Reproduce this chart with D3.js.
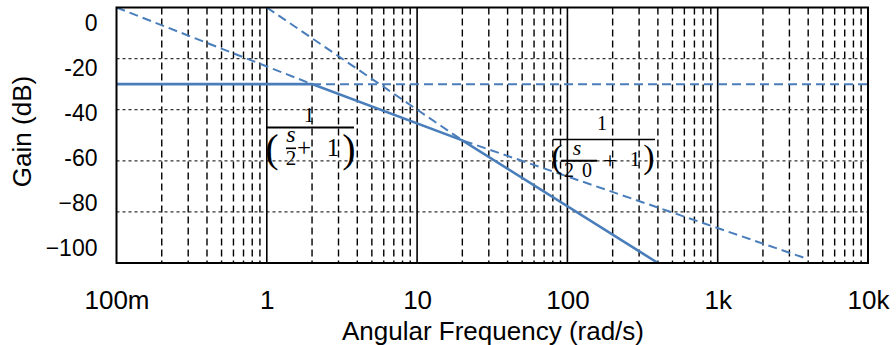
<!DOCTYPE html>
<html>
<head>
<meta charset="utf-8">
<script src="https://cdn.jsdelivr.net/npm/d3@7"></script>
<style>
  html, body { margin: 0; padding: 0; background: #fff; }
  svg { display: block; }
  text { font-family: "Liberation Sans", Arial, sans-serif; fill: #000; }
  .math text { font-family: "Liberation Serif", "DejaVu Serif", serif; }
</style>
</head>
<body>
<svg id="Bode" width="896" height="345"></svg>
<script>
// data
const xTickValues = [0.1, 1, 10, 100, 1000, 10000];
const xTickLabels = ["100m", "1", "10", "100", "1k", "10k"];
const yTickValues = [0, -20, -40, -60, -80, -100];
const yTickLabels = ["0", "-20", "-40", "-60", "\u221280", "\u2212100"];
const yGridValues = [-20, -40, -60, -80];

// asymptotic gain, solid
const gainFreq = [0.1, 2, 20, 400];
const gainDb = [-30, -30, -52, -100];
// dashed construction lines
const pole1Freq = [0.1, 2, 10000];
const pole1Db = [0, -30, -30];
const pole2Freq = [1, 20, 4000];
const pole2Db = [0, -52, -98.5];

const svg = d3.select("svg#Bode");
const plotLeft = 116.5, plotRight = 868, plotTop = 7.5, plotBottom = 263;

const xScale = d3.scaleLog().domain([0.1, 10000]).range([plotLeft, plotRight]);
const yScale = d3.scaleLinear().domain([0, -100]).range([plotTop, plotBottom]);
// the tick labels in the reference are spaced on their own, not on the grid
const yLabelScale = d3.scaleLinear().domain([0, -100]).range([23.3, 248.3]);

// minor decade lines
const minor = [];
for (let d = 0.1; d < 10000; d *= 10) {
    for (let k = 2; k <= 9; k++) minor.push(d * k);
}

const grid = svg.append("g").attr("class", "grid");
grid.selectAll(".minor")
    .data(minor)
    .enter()
    .append("line")
    .attr("x1", d => xScale(d)).attr("x2", d => xScale(d))
    .attr("y1", plotTop).attr("y2", plotBottom)
    .attr("stroke", "#000").attr("stroke-width", 1.4)
    .attr("stroke-dasharray", "7,4");

grid.selectAll(".hgrid")
    .data(yGridValues)
    .enter()
    .append("line")
    .attr("x1", plotLeft).attr("x2", plotRight)
    .attr("y1", d => yScale(d)).attr("y2", d => yScale(d))
    .attr("stroke", "#333").attr("stroke-width", 1.2)
    .attr("stroke-dasharray", "3,3");

grid.selectAll(".major")
    .data(xTickValues.slice(1, -1))
    .enter()
    .append("line")
    .attr("x1", d => xScale(d)).attr("x2", d => xScale(d))
    .attr("y1", plotTop).attr("y2", plotBottom)
    .attr("stroke", "#000").attr("stroke-width", 1.6);

// lines
const line = d3.line()
    .x(d => xScale(d[0]))
    .y(d => yScale(d[1]));

const blue = "#4a7ebb";
svg.append("path")
    .datum(d3.zip(pole1Freq, pole1Db))
    .attr("d", line)
    .attr("fill", "none").attr("stroke", blue).attr("stroke-width", 2)
    .attr("stroke-dasharray", "9,5");
svg.append("path")
    .datum(d3.zip(pole2Freq, pole2Db))
    .attr("d", line)
    .attr("fill", "none").attr("stroke", blue).attr("stroke-width", 2)
    .attr("stroke-dasharray", "9,5");
svg.append("path")
    .datum(d3.zip(gainFreq, gainDb))
    .attr("d", line)
    .attr("fill", "none").attr("stroke", blue).attr("stroke-width", 2.6);

// plot border
svg.append("rect")
    .attr("x", plotLeft).attr("y", plotTop)
    .attr("width", plotRight - plotLeft).attr("height", plotBottom - plotTop)
    .attr("fill", "none").attr("stroke", "#000").attr("stroke-width", 2);

// axes
const xAxis = svg.append("g")
    .attr("transform", `translate(0,${plotBottom})`)
    .call(d3.axisBottom(xScale)
        .tickValues(xTickValues)
        .tickFormat((d, i) => xTickLabels[i])
        .tickSize(0)
        .tickPadding(28));
xAxis.select(".domain").remove();
xAxis.selectAll("text").style("font-size", "26px").style("font-family", "Liberation Sans, Arial, sans-serif");

const yAxis = svg.append("g")
    .attr("transform", `translate(${plotLeft},0)`)
    .call(d3.axisLeft(yLabelScale)
        .tickValues(yTickValues)
        .tickFormat((d, i) => yTickLabels[i])
        .tickSize(0)
        .tickPadding(19));
yAxis.select(".domain").remove();
yAxis.selectAll("text").style("font-size", "23px").style("font-family", "Liberation Sans, Arial, sans-serif");

svg.append("text")
    .attr("x", 493).attr("y", 340)
    .attr("text-anchor", "middle")
    .style("font-size", "26px")
    .text("Angular Frequency (rad/s)");

svg.append("text")
    .attr("transform", "translate(31,131.5) rotate(-90)")
    .attr("text-anchor", "middle")
    .style("font-size", "26px")
    .text("Gain (dB)");

// transfer function labels
const math = svg.append("g").attr("class", "math");
function glyph(t, x, y, size, italic) {
    math.append("text")
        .attr("x", x).attr("y", y)
        .attr("text-anchor", "middle")
        .style("font-size", size + "px")
        .style("font-style", italic ? "italic" : "normal")
        .text(t);
}
function bar(x1, x2, y, w) {
    math.append("line")
        .attr("x1", x1).attr("x2", x2).attr("y1", y).attr("y2", y)
        .attr("stroke", "#000").attr("stroke-width", w);
}

// 1 / (s/2 + 1)
glyph("1", 309, 122, 21);
bar(266, 354, 127.5, 2);
glyph("(", 272, 162, 40);
glyph("s", 291, 142, 24, true);
bar(286, 296, 148.3, 1.6);
glyph("2", 291, 165, 21);
glyph("+", 304, 156, 25);
glyph("1", 333, 156, 25);
glyph(")", 349, 162, 40);

// 1 / (s/20 + 1)
glyph("1", 602, 130, 20);
bar(553, 655, 139.5, 1.6);
glyph("(", 557, 168, 34);
glyph("s", 577, 155, 22, true);
bar(561, 597, 160.7, 2);
glyph("2", 569, 177, 20);
glyph("0", 587, 177, 20);
glyph("+", 610, 168, 24);
glyph("1", 635, 166, 21);
glyph(")", 649, 168, 34);
</script>
</body>
</html>
